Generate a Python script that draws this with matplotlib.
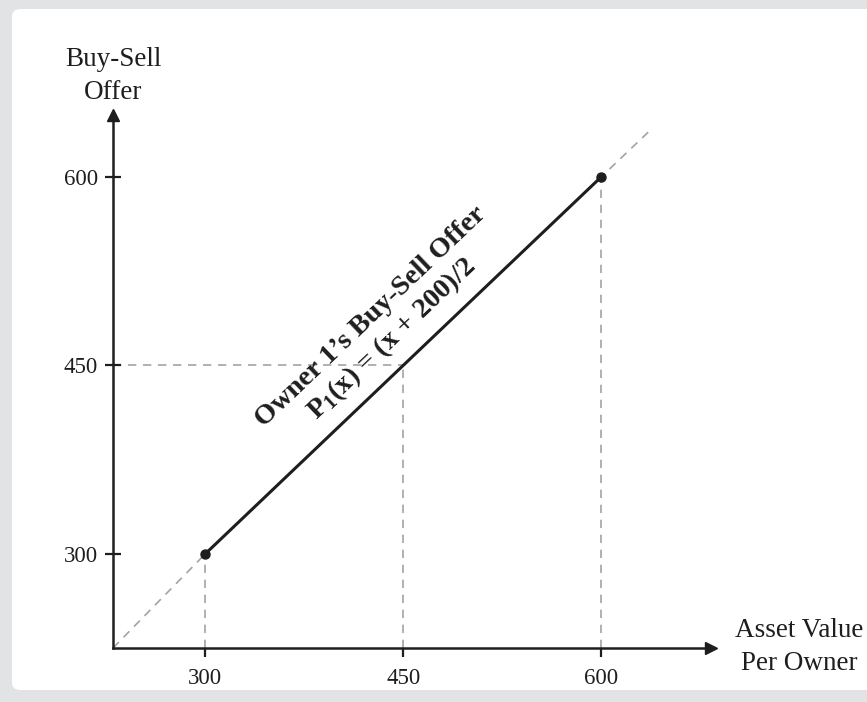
import matplotlib
matplotlib.use("Agg")
import matplotlib.pyplot as plt
from matplotlib.patches import FancyBboxPatch

plt.rcParams['font.family'] = ['Liberation Serif', 'DejaVu Serif']
plt.rcParams['mathtext.fontset'] = 'custom'
plt.rcParams['mathtext.rm'] = 'Liberation Serif:bold'
plt.rcParams['mathtext.bf'] = 'Liberation Serif:bold'
plt.rcParams['mathtext.it'] = 'Liberation Serif:bold'

# data
ticks = [300, 450, 600]
offer_x = [300, 600]
offer_y = [300, 600]
guide_x = [230, 300, 638]     # 45 degree reference line, from the corner
guide_y = [225, 300, 638]
mid_val = 450
x_lo, x_hi = 230, 683
y_lo, y_hi = 225, 649

ink = "#1e1e1e"
dash_col = "#a3a3a3"

fig = plt.figure(figsize=(8.67, 7.02), dpi=100, facecolor="#e2e3e5")
# white card behind everything
fig.patches.append(FancyBboxPatch((12/867, 12/702), 1.0, 1 - 21/702, boxstyle="round,pad=0,rounding_size=0.01",
                                  transform=fig.transFigure, fc="white", ec="none", zorder=-10))

# axes placed so the corner sits at the drawn origin
px_left, px_bottom = 113, 648
px_right = px_left + (x_hi - x_lo) * 1.32
px_top = px_bottom - (y_hi - y_lo) * 1.2567
ax = fig.add_axes([px_left/867, (702-px_bottom)/702, (px_right-px_left)/867, (px_bottom-px_top)/702])
ax.set_facecolor("none")
ax.set_xlim(x_lo, x_hi)
ax.set_ylim(y_lo, y_hi)
for s in ["top", "right"]:
    ax.spines[s].set_visible(False)
for s in ["left", "bottom"]:
    ax.spines[s].set_linewidth(1.8)
    ax.spines[s].set_color(ink)

# arrow heads
ax.plot(1, 0, ">", color=ink, ms=8, transform=ax.transAxes, clip_on=False)
ax.plot(0, 1, "^", color=ink, ms=8, transform=ax.transAxes, clip_on=False)

ax.set_xticks(ticks)
ax.set_yticks(ticks)
ax.tick_params(axis="y", direction="inout", length=12, width=1.6, color=ink, pad=5,
               labelsize=16.5, labelcolor=ink)
ax.tick_params(axis="x", direction="out", length=6.5, width=1.6, color=ink, pad=8,
               labelsize=16.5, labelcolor=ink)

# dashed guides
ax.plot(guide_x, guide_y, ls=(0, (5, 4)), lw=1.2, color=dash_col, zorder=1, clip_on=False)
ax.plot([x_lo, mid_val], [mid_val, mid_val], ls=(0, (5, 4)), lw=1.2, color=dash_col, zorder=1)
for xv, yv in zip(ticks, ticks):
    ax.plot([xv, xv], [y_lo, yv], ls=(0, (5, 4)), lw=1.2, color=dash_col, zorder=1)

# offer line
ax.plot(offer_x, offer_y, color=ink, lw=2.2, marker="o", ms=6.5, zorder=3)

ax.text(434, 479, "Owner 1\u2019s Buy-Sell Offer\n$\\mathbf{P_1}$(x) = (x + 200)/2",
        rotation=43.6, ha="center", va="center", multialignment="center",
        fontsize=20.5, fontweight="bold", color=ink, linespacing=1.1)

# axis labels
fig.text(113/867, 1 - 76/702, "Buy-Sell\nOffer", ha="center", va="center",
         fontsize=19.5, color=ink, linespacing=1.38)
fig.text(799/867, 1 - 647/702, "Asset Value\nPer Owner", ha="center", va="center",
         fontsize=19.5, color=ink, linespacing=1.38)

fig.savefig("out.png", dpi=100, facecolor=fig.get_facecolor())
